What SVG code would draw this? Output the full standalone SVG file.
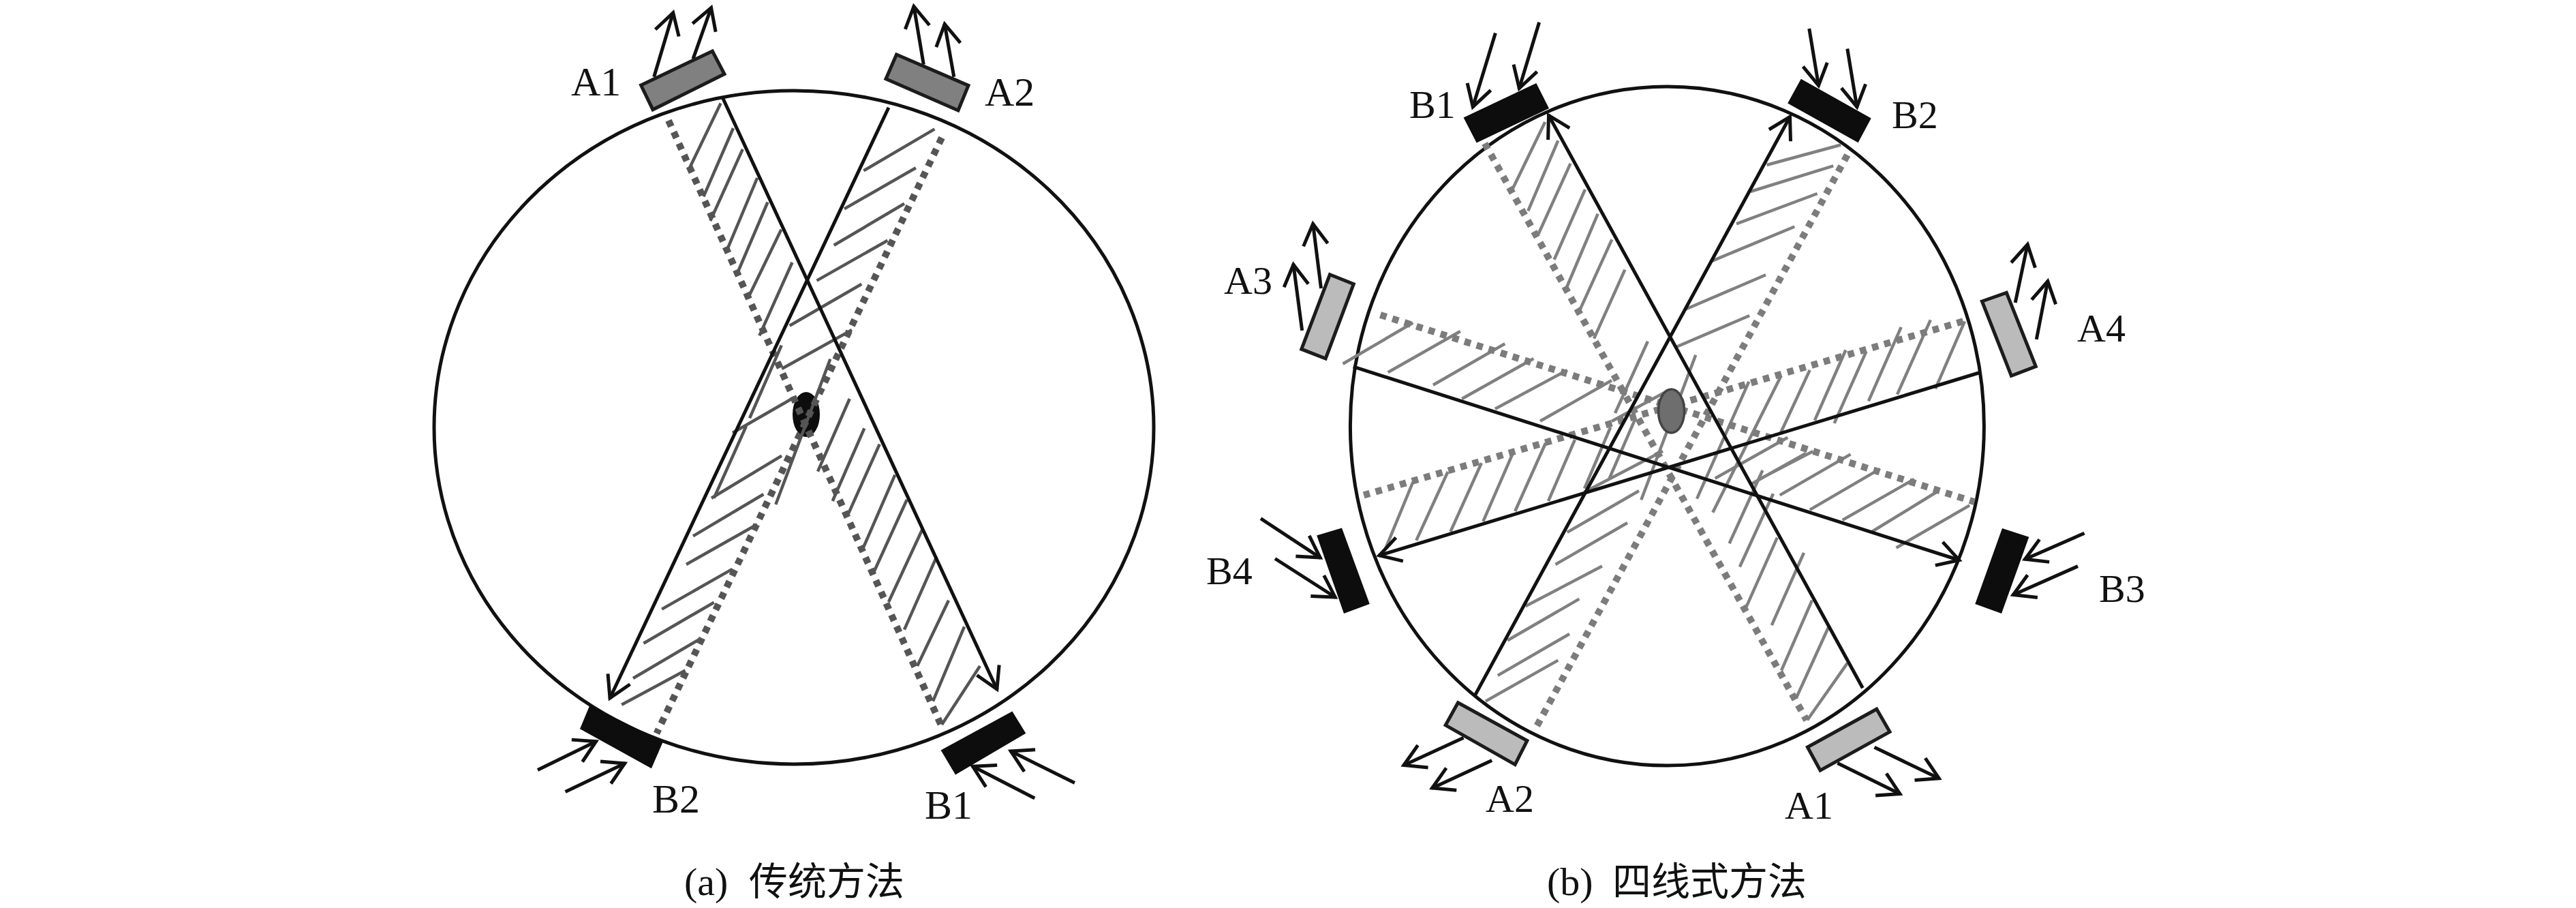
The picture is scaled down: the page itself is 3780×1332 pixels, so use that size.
<svg xmlns="http://www.w3.org/2000/svg" width="3780" height="1332" viewBox="0 0 3780 1332">
<style>
.bg{fill:#fff}
.ring{fill:none;stroke:#111;stroke-width:5}
.arr{fill:none;stroke:#111;stroke-width:5;marker-end:url(#head)}
.hatchL{fill:none;stroke:#555;stroke-width:4.5}
.hatchR{fill:none;stroke:#808080;stroke-width:4.5}
.dotL{fill:none;stroke:#555;stroke-width:10;stroke-dasharray:9.5 9}
.dotR{fill:none;stroke:#7c7c7c;stroke-width:10;stroke-dasharray:9.5 9}
.det{fill:#0d0d0d;stroke:none}
.srcL{fill:#808080;stroke:#1c1c1c;stroke-width:5}
.srcR{fill:#bbb;stroke:#1c1c1c;stroke-width:5}
text{fill:#111;font-family:"Liberation Serif","Noto Sans CJK SC",serif}
.lL{font-size:60px}
.lR{font-size:58px}
.cap{font-size:58px}
.cjk{font-family:"Noto Sans CJK SC","Liberation Serif",sans-serif;font-size:57px}
</style>
<defs>
<marker id="head" markerUnits="userSpaceOnUse" markerWidth="60" markerHeight="60" viewBox="-40 -30 60 60" refX="1" refY="0" orient="auto" overflow="visible">
<path d="M-31,-18 L0,0 L-31,18" fill="none" stroke="#111" stroke-width="5"/>
</marker>
</defs>
<rect class="bg" width="3780" height="1332"/>
<g id="panel-a-body">
<ellipse class="ring" cx="1165" cy="627" rx="528" ry="494"/>
<ellipse class="det" id="target-a" cx="1183" cy="608" rx="20" ry="33"/>
</g>
<g id="connectors-a">
<path class="hatchL" d="M1057.6,151.5L1011,248.3M1076,188L1032.4,288.3M1089.8,218.9L1042.3,324M1111.2,261L1065.3,370.4M1126.5,296.7L1080.6,404M1146.4,336.7L1097.4,437.7M1162.5,385L1114.3,492.4M1146.7,506.7L1100,613.3M1218.3,526.7L1138.3,740M1095,625L1047.7,730.7M1246.7,585L1200,691.7M1268.3,628.3L1221.7,735M1290.7,651.7L1245,753.3M1313.3,696.7L1265.8,805.7M1330.8,733L1281,842M1353.8,775.7L1304,883M1374.5,816.4L1327,923.6M1392,880.7L1346,977M1415,919.3L1369,1028.6M1438,977L1382,1063"/>
<path class="hatchL" d="M1371.4,189.4L1267.3,250.4M1343.9,246.2L1239,306.4M1327,298.8L1223.7,359.8M1302.5,352.7L1198.5,411.6M1264.3,416.7L1158.7,477.7M1250,484L1147.2,541M1165,583.3L1075,635M1147,668.6L1044,730.7M1120.4,725L1017,786.4M1111,769.3L1007,828M1074.5,834.9L971.2,893.6M1047.7,883.7L944.4,943.7M1028.6,936.5L929,995M1005.6,983.6L912.2,1033.8"/>
<path class="dotL" d="M981,176.8L1380.6,1063"/>
<path class="dotL" d="M1382,202L963.5,1075.8"/>
<path class="arr" d="M1060.7,144L1463.3,1012"/>
<path class="arr" d="M1304,157.8L894.6,1025"/>
<path class="arr" d="M959.7,112.8L988,17.7"/>
<path class="arr" d="M1017,86.3L1043.9,10.5"/>
<path class="arr" d="M1355.3,94.7L1340.8,8.4"/>
<path class="arr" d="M1399.8,112.8L1386,34.5"/>
<path class="arr" d="M789,1129.4L875.5,1087.3"/>
<path class="arr" d="M829.6,1161.5L917.6,1119.5"/>
<path class="arr" d="M1577,1148.6L1482.4,1101.5"/>
<path class="arr" d="M1518.3,1171L1426.5,1123.8"/>
</g>
<g id="a-A1"><polygon class="srcL" points="940.6,125 1045.4,75 1063,108.6 958,160.8"/><text class="lL" x="838" y="140">A1</text></g>
<g id="a-A2"><polygon class="srcL" points="1315.5,80 1421,125.4 1406,162 1300,115.7"/><text class="lL" x="1445" y="155">A2</text></g>
<g id="a-B2"><polygon class="det" points="865.6,1034.2 972.7,1088.6 955.9,1127.2 851,1069.3"/><text class="lL" x="957" y="1191.5">B2</text></g>
<g id="a-B1"><polygon class="det" points="1485.4,1043.6 1505.3,1075.8 1402,1136.6 1380.6,1100.6"/><text class="lL" x="1357" y="1201">B1</text></g>
<text class="cap" id="caption-a" x="1004" y="1313">(a)<tspan class="cjk" x="1099">传统方法</tspan></text>

<g id="panel-b-body">
<ellipse class="ring" cx="2446.4" cy="625" rx="465" ry="498"/>
</g>
<g id="connectors-b">
<path class="hatchR" d="M2267.2,178.9L2219.3,277.8M2286.3,206.2L2242.3,309.3M2304.5,239.9L2257.6,343M2326,277.8L2280.6,380.9M2344.7,313.6L2298.3,423M2365.3,351.4L2317.4,456.6M2384.4,395.6L2339,496.6M2417.9,500.8L2370,606M2488.3,520.7L2408.3,733.3M2400,613.3L2361.7,701.7M2363.3,626.7L2325,716.7M2586.4,690L2537.6,797.2M2602,724.3L2552.9,831.5M2607.9,788.6L2561,893.6M2647,810.9L2599.8,917.2M2659,880.7L2614,983.6M2684.4,917.2L2635.6,1024.3M2710.8,972.9L2651.9,1056.5"/>
<path class="hatchR" d="M2883,471.4L2840,570.3M2832.8,469.3L2784,578.7M2789.7,479.8L2741.9,588.4M2738.5,515.6L2691.6,620.8M2708.4,513.5L2662.9,616.6M2655.7,542.9L2612.7,635.5M2613.6,551.3L2513.3,751.7M2566.3,559.8L2490,731.7M2073.4,707L2032.7,805.7M2124.6,692L2078.2,792.9M2173.9,679.3L2128.4,780M2219.3,666.4L2176.3,765M2268,650L2223.2,750M2311,645L2272,735"/>
<path class="hatchR" d="M2073.4,473.5L1970.5,533.7M2142.8,486L2036.6,546.3M2208.3,504.2L2103,564.8M2250.4,526L2145.2,585M2299.7,543L2194,599.7M2365,558L2260,617.8M2450,571.7L2365,618M2440,661.7L2325,721.7M2405,720L2299.7,780.9M2388,767L2282.5,828M2350.9,830.6L2238.5,889.3M2317.4,878.6L2212,939.5M2303,930L2197.8,990.9M2286.3,968.6L2180,1028.6"/>
<path class="hatchR" d="M2701.2,212.5L2592.6,242M2690.2,243.3L2568.7,281M2666.7,284L2548,328.3M2633.3,332.5L2509.8,383.8M2591,403.2L2471.5,454.5M2567.2,463L2457.2,510M2623.3,641.7L2516.7,701.7M2650,665L2570,710M2660.5,662L2581.6,702.9M2715.6,666.4L2611.7,726.4M2758.6,687.9L2655.7,747.9M2808.9,702.9L2703.6,762.9M2844.7,720L2746.7,780M2890.2,741.4L2782.5,803.6"/>
<path class="dotR" d="M2178.7,210.4L2651,1056.5"/>
<path class="dotR" d="M2710.8,227.3L2255.2,1065"/>
<path class="dotR" d="M2025.5,462L2897.4,736.3"/>
<path class="dotR" d="M2880.6,471.4L2001.2,726.4"/>
<path class="arr" d="M2733.3,1009.3L2272,168.4"/>
<path class="arr" d="M2163.3,1022L2627,170.5"/>
<path class="arr" d="M1985.8,537.9L2875.8,822"/>
<path class="arr" d="M2903.6,547L2023,815.2"/>
<path class="arr" d="M2194.4,48.4L2161,157.8"/>
<path class="arr" d="M2258.6,32.8L2229,130.5"/>
<path class="arr" d="M2654.8,42L2668.7,126.3"/>
<path class="arr" d="M2710.8,71.5L2725,157.8"/>
<path class="arr" d="M1938.5,423L1926.5,327.4"/>
<path class="arr" d="M1910.7,484.8L1897.8,387.2"/>
<path class="arr" d="M2957.2,444L2975.4,357.7"/>
<path class="arr" d="M2988.3,497.9L3005,411.6"/>
<path class="arr" d="M1850,760.7L1938,818.6"/>
<path class="arr" d="M1871,819.5L1960,876.5"/>
<path class="arr" d="M3058.6,782.2L2970.6,820.7"/>
<path class="arr" d="M3049,830.6L2953.3,873"/>
<path class="arr" d="M2147.6,1082.2L2059,1122.9"/>
<path class="arr" d="M2189.2,1115.6L2100.7,1156.4"/>
<path class="arr" d="M2750.5,1096.3L2846.2,1142.2"/>
<path class="arr" d="M2696.4,1119.5L2788.8,1165"/>
</g>
<ellipse id="target-b" cx="2452.5" cy="603" rx="19" ry="32" fill="#6e6e6e" stroke="#444" stroke-width="3.5"/>
<g id="b-B1"><polygon class="det" points="2147.6,172.6 2254.3,122 2273,159 2166.7,209.6"/><text class="lR" x="2068" y="173.4">B1</text></g>
<g id="b-B2"><polygon class="det" points="2642.8,115.7 2745.7,173.4 2726.6,209.2 2623.2,151.5"/><text class="lR" x="2776" y="188">B2</text></g>
<g id="b-A3"><polygon class="srcR" points="1951.4,402.8 1986.3,416.7 1945.2,526 1909.8,512.2"/><text class="lR" x="1796" y="431.4">A3</text></g>
<g id="b-A4"><polygon class="srcR" points="2908.4,442 2944.3,429.3 2987.3,537.5 2951.4,551.3"/><text class="lR" x="3048" y="500.8">A4</text></g>
<g id="b-B4"><polygon class="det" points="1932.2,785.6 1969,774.4 2009.8,885.9 1972,900"/><text class="lR" x="1770" y="857.2">B4</text></g>
<g id="b-B3"><polygon class="det" points="2938,774.9 2977.3,787.7 2937,900 2898.3,885.9"/><text class="lR" x="3080" y="882.9">B3</text></g>
<g id="b-A2"><polygon class="srcR" points="2139.4,1030.8 2240.9,1086.5 2223.2,1121.6 2121.2,1063.8"/><text class="lR" x="2180" y="1190.6">A2</text></g>
<g id="b-A1"><polygon class="srcR" points="2753.8,1040.2 2773,1073.6 2671,1130.2 2652.4,1096"/><text class="lR" x="2619" y="1200.9">A1</text></g>
<text class="cap" id="caption-b" x="2270" y="1313">(b)<tspan class="cjk" x="2366">四线式方法</tspan></text>
</svg>
